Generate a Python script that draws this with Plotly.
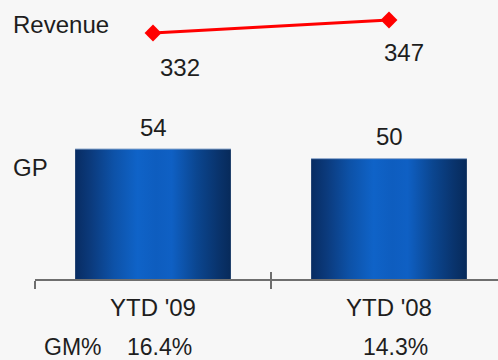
import plotly.graph_objects as go

# ---- data ----
categories = ["YTD '09", "YTD '08"]
gross_profit = [54, 50]
revenue = [332, 347]
gm_pct = ["16.4%", "14.3%"]

# ---- styling ----
BG = "#f7f7f7"
TEXT = "#1e1e1e"
AXIS = "#6e6e6e"
FONT = dict(family="Liberation Sans, Arial, sans-serif", size=24, color=TEXT)
FONT_GM = dict(FONT, size=23)
BAR_W = 0.66
BAR_SCALE = [
    [0.00, "#082c62"],
    [0.10, "#0b3a7c"],
    [0.25, "#0d52a8"],
    [0.40, "#0f63c8"],
    [0.52, "#0e5dbf"],
    [0.62, "#0f60c4"],
    [0.78, "#0b4690"],
    [0.92, "#09336c"],
    [1.00, "#072a5a"],
]

W, H = 498, 360
L, B = 35, 81
PLOT_W, PLOT_H = W - L, H - B


def paper_x(px):
    return (px - L) / PLOT_W


def paper_y(py):
    return (PLOT_H - py) / PLOT_H


def label(**kw):
    base = dict(showarrow=False, xanchor="center", yanchor="middle",
                borderpad=0, font=FONT)
    base.update(kw)
    fig.add_annotation(**base)


fig = go.Figure()

# gross profit bars with a horizontal metallic gradient
for i, v in enumerate(gross_profit):
    x0, x1 = i - BAR_W / 2, i + BAR_W / 2
    fig.add_trace(go.Scatter(
        x=[x0, x1, x1, x0, x0], y=[0, 0, v, v, 0],
        mode="lines", fill="toself",
        fillgradient=dict(type="horizontal", colorscale=BAR_SCALE),
        line=dict(width=0), hoverinfo="skip", showlegend=False,
    ))
    fig.add_trace(go.Scatter(
        x=[x0, x1], y=[v, v], mode="lines",
        line=dict(color="#8ea8cc", width=1),
        hoverinfo="skip", showlegend=False,
    ))
    label(x=i, y=v, xref="x", yref="y", text=str(v), yshift=22)

# revenue line on its own scale
fig.add_trace(go.Scatter(
    x=list(range(len(revenue))), y=revenue,
    xaxis="x2", yaxis="y2", mode="lines+markers",
    line=dict(color="#ff0000", width=3),
    marker=dict(symbol="diamond", size=13, color="#ff0000"),
    hoverinfo="skip", showlegend=False,
))
rev_shift = [(27, -34), (15, -32)]
for i, v in enumerate(revenue):
    dx, dy = rev_shift[i]
    label(x=i, y=v, xref="x2", yref="y2", text=str(v), xshift=dx, yshift=dy)

# row labels
label(x=paper_x(12), y=paper_y(25), xref="paper", yref="paper",
      text="Revenue", xanchor="left")
label(x=paper_x(12), y=paper_y(167), xref="paper", yref="paper",
      text="GP", xanchor="left")
label(x=paper_x(43), y=paper_y(347), xref="paper", yref="paper",
      text="GM%", xanchor="left", font=FONT_GM)

# category names and margins under the axis
for i, (cat, gm) in enumerate(zip(categories, gm_pct)):
    label(x=i, y=paper_y(307), xref="x", yref="paper", text=cat)
    label(x=i, y=paper_y(347), xref="x", yref="paper", text=gm, xshift=6,
          font=FONT_GM)

x_range = [-0.5, -0.5 + PLOT_W / 236]
boundaries = [-0.5, 0.5, 1.5]

fig.update_layout(
    width=W, height=H,
    margin=dict(l=L, r=0, t=0, b=B, pad=0),
    paper_bgcolor=BG, plot_bgcolor=BG,
    showlegend=False,
    xaxis=dict(range=x_range, tickvals=boundaries, ticks="outside", ticklen=8,
               tickwidth=2, tickcolor=AXIS, showticklabels=False,
               showline=True, linecolor=AXIS, linewidth=2,
               showgrid=False, zeroline=False, fixedrange=True),
    xaxis2=dict(range=x_range, overlaying="x", anchor="y", side="bottom",
                tickvals=boundaries, ticks="inside", ticklen=7, tickwidth=2,
                tickcolor=AXIS, showticklabels=False, showline=False,
                showgrid=False, zeroline=False, fixedrange=True),
    yaxis=dict(range=[0, PLOT_H / 2.407], visible=False, fixedrange=True),
    yaxis2=dict(range=[48.2, 370.1], overlaying="y", anchor="x",
                visible=False, fixedrange=True),
)

fig.write_html("out.html")
